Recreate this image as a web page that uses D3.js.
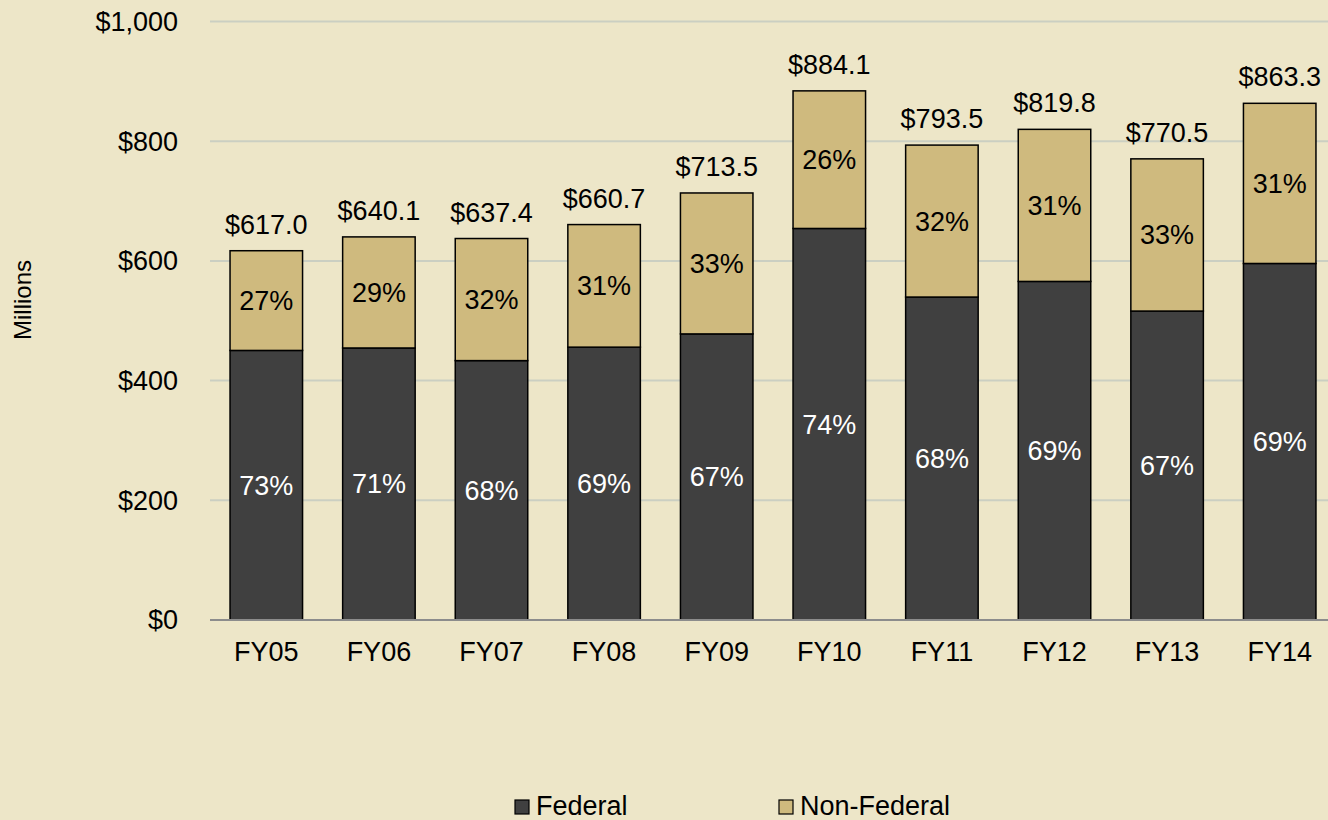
<!DOCTYPE html>
<html>
<head>
<meta charset="utf-8">
<script src="https://cdn.jsdelivr.net/npm/d3@7.9.0/dist/d3.min.js"></script>
<style>
  html, body { margin: 0; padding: 0; background: #EDE6C8; }
  svg { display: block; font-family: "Liberation Sans", Arial, sans-serif; }
</style>
</head>
<body>
<svg id="chart" width="1328" height="820"></svg>
<script>
// Chart data (millions of dollars)
const years = ['FY05', 'FY06', 'FY07', 'FY08', 'FY09', 'FY10', 'FY11', 'FY12', 'FY13', 'FY14'];
const federal = [450.4, 454.5, 433.4, 455.9, 478.0, 654.2, 539.6, 565.7, 516.2, 595.7];
const nonFederal = [166.6, 185.6, 204.0, 204.8, 235.5, 229.9, 253.9, 254.1, 254.3, 267.6];
const yTicks = [0, 200, 400, 600, 800, 1000];

const colors = { federal: '#404040', nonFederal: '#CFBA7E' };
const fontSize = 27;

const svg = d3.select('#chart');

// Scales
const x = d3.scaleBand()
  .domain(years)
  .range([210, 1336])
  .paddingInner(0.356)
  .paddingOuter(0.178);

const y = d3.scaleLinear()
  .domain([0, 1000])
  .range([620, 21.5]);

// Gridlines
svg.append('g')
  .selectAll('line')
  .data(yTicks.filter((d) => d > 0))
  .join('line')
  .attr('x1', 210)
  .attr('x2', 1328)
  .attr('y1', (d) => y(d))
  .attr('y2', (d) => y(d))
  .attr('stroke', '#CBCFC2')
  .attr('stroke-width', 2);

// Y axis labels
svg.append('g')
  .selectAll('text')
  .data(yTicks)
  .join('text')
  .attr('x', 178)
  .attr('y', (d) => y(d))
  .attr('dy', '0.35em')
  .attr('text-anchor', 'end')
  .attr('font-size', fontSize)
  .attr('fill', '#000')
  .text((d) => '$' + d3.format(',')(d));

// Stack the two series
const rows = years.map((yr, i) => ({ year: yr, federal: federal[i], nonFederal: nonFederal[i] }));
const stacked = d3.stack().keys(['federal', 'nonFederal'])(rows);

const layers = svg.append('g')
  .selectAll('g')
  .data(stacked)
  .join('g')
  .attr('fill', (d) => colors[d.key]);

layers.selectAll('rect')
  .data((d) => d)
  .join('rect')
  .attr('x', (d) => x(d.data.year))
  .attr('width', x.bandwidth())
  .attr('y', (d) => y(d[1]))
  .attr('height', (d) => y(d[0]) - y(d[1]))
  .attr('stroke', '#000')
  .attr('stroke-width', 1.5);

// Percent labels inside segments
stacked.forEach((layer) => {
  svg.append('g')
    .selectAll('text')
    .data(layer)
    .join('text')
    .attr('x', (d) => x(d.data.year) + x.bandwidth() / 2)
    .attr('y', (d) => (y(d[0]) + y(d[1])) / 2)
    .attr('dy', '0.35em')
    .attr('text-anchor', 'middle')
    .attr('font-size', fontSize)
    .attr('fill', layer.key === 'federal' ? '#fff' : '#000')
    .text((d) => {
      const total = d.data.federal + d.data.nonFederal;
      return Math.round((d[1] - d[0]) / total * 100) + '%';
    });
});

// Totals above bars
svg.append('g')
  .selectAll('text')
  .data(rows)
  .join('text')
  .attr('x', (d) => x(d.year) + x.bandwidth() / 2)
  .attr('y', (d) => y(d.federal + d.nonFederal) - 17)
  .attr('text-anchor', 'middle')
  .attr('font-size', fontSize)
  .attr('fill', '#000')
  .text((d) => '$' + d3.format('.1f')(d.federal + d.nonFederal));

// X axis baseline
svg.append('line')
  .attr('x1', 210)
  .attr('x2', 1328)
  .attr('y1', y(0))
  .attr('y2', y(0))
  .attr('stroke', '#8C8C8C')
  .attr('stroke-width', 2);

// X axis labels
svg.append('g')
  .selectAll('text')
  .data(years)
  .join('text')
  .attr('x', (d) => x(d) + x.bandwidth() / 2)
  .attr('y', 661)
  .attr('text-anchor', 'middle')
  .attr('font-size', fontSize)
  .attr('fill', '#000')
  .text((d) => d);

// Y axis title
svg.append('text')
  .attr('transform', 'translate(31,300) rotate(-90)')
  .attr('text-anchor', 'middle')
  .attr('font-size', 24)
  .attr('fill', '#000')
  .text('Millions');

// Legend
const legendItems = [
  { label: 'Federal', color: colors.federal, x: 515 },
  { label: 'Non-Federal', color: colors.nonFederal, x: 779 }
];

const legend = svg.append('g')
  .selectAll('g')
  .data(legendItems)
  .join('g')
  .attr('transform', (d) => `translate(${d.x},800)`);

legend.append('rect')
  .attr('width', 14)
  .attr('height', 14)
  .attr('fill', (d) => d.color)
  .attr('stroke', '#000')
  .attr('stroke-width', 1.2);

legend.append('text')
  .attr('x', 21)
  .attr('y', 15)
  .attr('font-size', fontSize)
  .attr('fill', '#000')
  .text((d) => d.label);
</script>
</body>
</html>
